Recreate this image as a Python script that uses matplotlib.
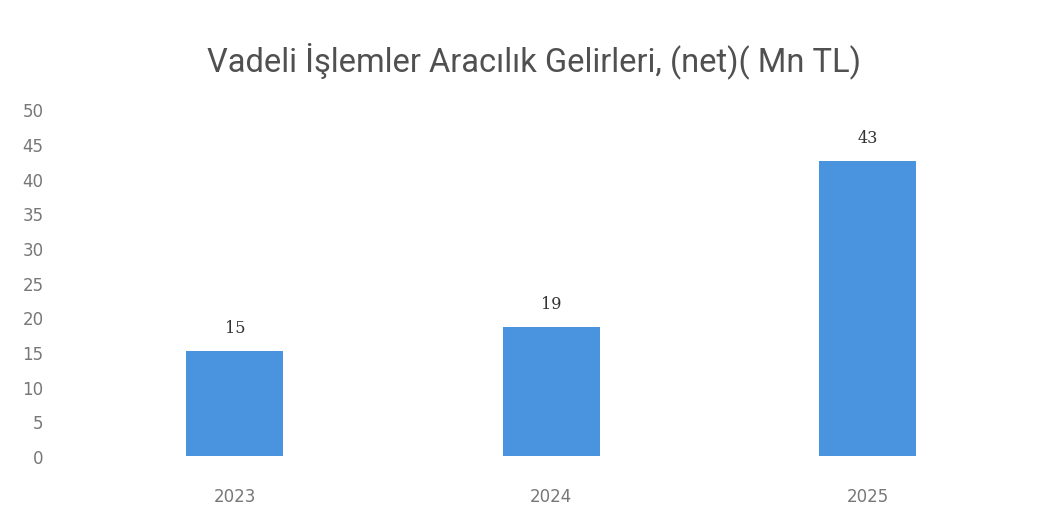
import matplotlib
matplotlib.use('Agg')
import matplotlib.pyplot as plt

# veriler
years = ['2023', '2024', '2025']
values = [15.1, 18.6, 42.5]
value_labels = ['15', '19', '43']
yticks = [0, 5, 10, 15, 20, 25, 30, 35, 40, 45, 50]

fig = plt.figure(figsize=(10.52, 5.10), dpi=100)
ax = fig.add_axes([0.073, 0.104, 0.902, 0.680])

x = range(len(years))
bars = ax.bar(x, values, width=0.307, color='#4a93de')

for b, lab in zip(bars, value_labels):
    ax.text(b.get_x() + b.get_width() / 2, b.get_height() + 2.2, lab,
            ha='center', va='bottom', fontsize=11.5, color='#333333',
            family='DejaVu Serif')

ax.set_xlim(-0.5, 2.5)
ax.set_ylim(0, 50)
ax.set_yticks(yticks)
ax.set_xticks(list(x))
ax.set_xticklabels(years)
ax.tick_params(axis='both', length=0, colors='#777777', labelsize=12)
ax.tick_params(axis='x', pad=22)
ax.tick_params(axis='y', pad=24)
for s in ax.spines.values():
    s.set_visible(False)

fig.text(0.508, 0.882, 'Vadeli İşlemler Aracılık Gelirleri, (net)( Mn TL)',
         ha='center', va='center', fontsize=23.5, color='#505050', family='Roboto')

fig.savefig('out.png', dpi=100, facecolor='white')
